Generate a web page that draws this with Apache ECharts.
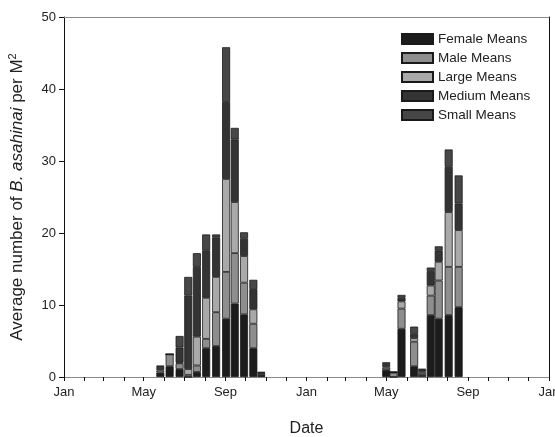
<!DOCTYPE html>
<html>
<head>
<meta charset="utf-8">
<script src="https://cdn.jsdelivr.net/npm/echarts@6/dist/echarts.min.js"></script>
<style>
  html, body { margin: 0; padding: 0; background: #fff; }
  #chart { width: 555px; height: 437px; }
</style>
</head>
<body>
<div id="chart"></div>
<script>
// Sampling dates (about every two weeks during the season)
const dates = [
  '2001-05-26', '2001-06-09', '2001-06-24', '2001-07-07', '2001-07-20', '2001-08-03',
  '2001-08-18', '2001-09-02', '2001-09-15', '2001-09-29', '2001-10-13', '2001-10-25',
  '2002-05-01', '2002-05-12', '2002-05-24', '2002-06-12', '2002-06-24', '2002-07-07',
  '2002-07-19', '2002-08-03', '2002-08-18'
];

const femaleMeans = [0.6, 1.5, 1.1, 0.0, 0.7, 4.0, 4.3, 8.1, 10.2, 8.7, 4.0, 0.15,
                     1.0, 0.0, 6.7, 1.5, 0.3, 8.6, 8.1, 8.6, 9.7];
const maleMeans   = [0.3, 1.65, 0.8, 0.3, 0.9, 1.3, 4.7, 6.5, 7.0, 4.4, 3.4, 0.15,
                     0.3, 0.6, 2.8, 3.4, 0.3, 2.7, 5.3, 6.7, 5.6];
const largeMeans  = [0.2, 0.0, 0.1, 0.8, 4.0, 5.7, 4.9, 12.9, 7.1, 3.7, 2.0, 0.2,
                     0.2, 0.05, 1.0, 0.5, 0.2, 1.4, 2.6, 7.6, 5.1];
const mediumMeans = [0.3, 0.0, 2.1, 10.2, 9.7, 6.6, 5.5, 10.7, 8.7, 2.4, 2.8, 0.1,
                     0.3, 0.0, 0.5, 0.6, 0.2, 2.0, 1.6, 6.3, 3.7];
const smallMeans  = [0.2, 0.0, 1.6, 2.6, 1.9, 2.2, 0.4, 7.6, 1.6, 0.9, 1.3, 0.1,
                     0.25, 0.1, 0.4, 1.0, 0.15, 0.5, 0.55, 2.4, 3.9];

const seriesNames  = ['Female Means', 'Male Means', 'Large Means', 'Medium Means', 'Small Means'];
const seriesValues = [femaleMeans, maleMeans, largeMeans, mediumMeans, smallMeans];
const seriesColors = ['#1c1c1c', '#8e8e8e', '#a9a9a9', '#343434', '#474747'];

const monthNames = ['Jan', 'Feb', 'Mar', 'Apr', 'May', 'Jun', 'Jul', 'Aug', 'Sep', 'Oct', 'Nov', 'Dec'];
const xMin = Date.UTC(2001, 0, 1);
const xMax = Date.UTC(2003, 0, 1);

// monthly ticks, labels on Jan / May / Sep
const monthTicks = [];
for (let m = 0; m <= 24; m++) monthTicks.push(Date.UTC(2001, m, 1));
const labelTicks = monthTicks.filter(t => [0, 4, 8].includes(new Date(t).getUTCMonth()));

const toTs = (d) => {
  const [y, m, day] = d.split('-').map(Number);
  return Date.UTC(y, m - 1, day);
};

const chart = echarts.init(document.getElementById('chart'), null, { renderer: 'canvas' });

const font = 'Liberation Sans, Arial, sans-serif';

// plain frame axes for the top and right edges of the box
const frameX = { type: 'value', position: 'top', min: xMin, max: xMax, show: true,
                 axisLine: { show: true, onZero: false, lineStyle: { color: '#8a8a8a', width: 1 } },
                 axisTick: { show: false }, axisLabel: { show: false }, splitLine: { show: false } };
const frameY = { type: 'value', position: 'right', min: 0, max: 50, interval: 10, show: true,
                 axisLine: { show: true, onZero: false, lineStyle: { color: '#111', width: 1 } },
                 axisTick: { show: false }, axisLabel: { show: false }, splitLine: { show: false } };

chart.setOption({
  animation: false,
  backgroundColor: '#fff',
  textStyle: { fontFamily: font },
  grid: { left: 64, right: 6, top: 17, bottom: 60, containLabel: false,
          outerBoundsMode: 'none', show: false },
  legend: {
    orient: 'vertical',
    left: 396,
    top: 27,
    icon: 'rect',
    itemWidth: 31,
    itemHeight: 10,
    itemGap: 5,
    textStyle: { fontFamily: font, fontSize: 13.5, color: '#222' },
    data: seriesNames,
  },
  xAxis: [{
    type: 'value',
    position: 'bottom',
    min: xMin,
    max: xMax,
    name: 'Date',
    nameLocation: 'middle',
    nameGap: 44,
    nameTextStyle: { fontFamily: font, fontSize: 16, color: '#222' },
    axisLine: { onZero: false, lineStyle: { color: '#8a8a8a', width: 1 } },
    axisTick: { show: true, length: 4, customValues: monthTicks, lineStyle: { color: '#111' } },
    axisLabel: {
      customValues: labelTicks,
      margin: 9,
      fontFamily: font, fontSize: 13, color: '#222',
      formatter: (v) => monthNames[new Date(v).getUTCMonth()],
    },
    splitLine: { show: false },
  }, frameX],
  yAxis: [{
    type: 'value',
    position: 'left',
    min: 0,
    max: 50,
    interval: 10,
    name: '{n|Average number of }{i|B. asahinai}{n| per M}{s|2}',
    nameLocation: 'middle',
    nameGap: 36,
    nameRotate: 90,
    nameTextStyle: {
      color: '#222',
      rich: {
        n: { fontFamily: font, fontSize: 17, color: '#222' },
        i: { fontFamily: font, fontSize: 17, fontStyle: 'italic', color: '#222' },
        s: { fontFamily: font, fontSize: 11, color: '#222', verticalAlign: 'top', padding: [0, 0, 10, 0] },
      },
    },
    axisLine: { show: true, onZero: false, lineStyle: { color: '#111', width: 1 } },
    axisTick: { show: true, length: 5, lineStyle: { color: '#111' } },
    axisLabel: { fontFamily: font, fontSize: 13, color: '#222', margin: 8 },
    splitLine: { show: false },
  }, frameY],
  // value first so that the stack is computed on y, by data index
  series: seriesNames.map((name, i) => ({
    name,
    type: 'bar',
    stack: 'all',
    barWidth: 8,
    xAxisIndex: 0,
    yAxisIndex: 0,
    encode: { x: 1, y: 0 },
    itemStyle: { color: seriesColors[i], borderColor: '#1a1a1a', borderWidth: 0.8 },
    data: dates.map((d, j) => [seriesValues[i][j], toTs(d)]),
  })),
});
</script>
</body>
</html>
